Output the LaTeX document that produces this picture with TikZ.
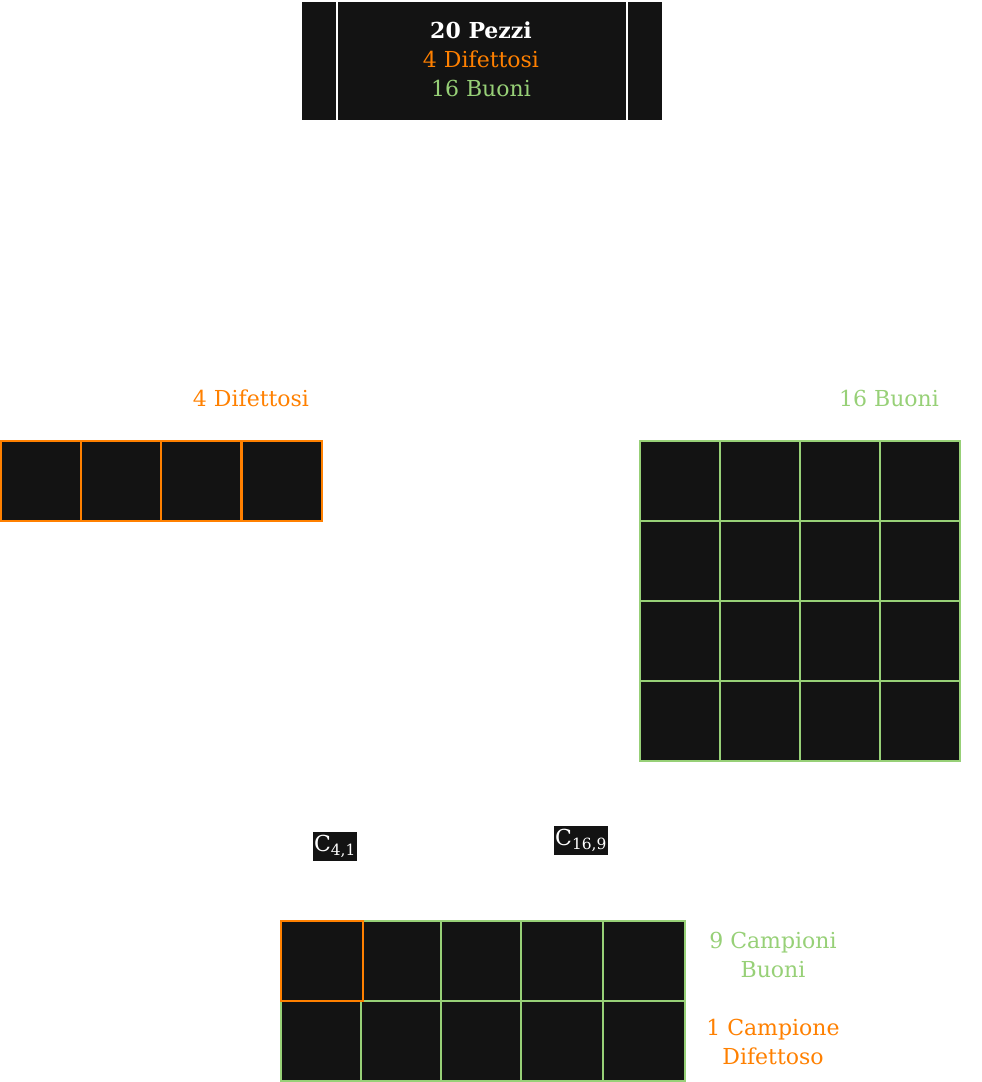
\documentclass[tikz,border=0pt]{standalone}
\usepackage{fontspec}
\setmainfont{DejaVu Serif}
\definecolor{dk}{HTML}{131313}
\definecolor{org}{HTML}{FF8000}
\definecolor{grn}{HTML}{97D077}
\begin{document}
\begin{tikzpicture}[x=1pt,y=-1pt,
  every node/.style={font=\fontsize{22}{29}\selectfont},
  cellbox/.style={rectangle,fill=dk,line width=2.4pt,inner sep=0pt,minimum width=#1,minimum height=80pt},
  cellbox/.default=80pt,
  orgcell/.style={cellbox=#1,draw=org},
  orgcell/.default=80pt,
  grncell/.style={cellbox=#1,draw=grn},
  grncell/.default=80pt,
  lbl/.style={align=center,inner sep=0pt},
  sublbl/.style={fill=dk,text=white,inner sep=1pt,minimum height=29pt,font=\fontsize{22}{26}\selectfont}]
\useasboundingbox (0,0) rectangle (982,1082);
% top box
\node[rectangle,fill=dk,minimum width=360pt,minimum height=118pt,inner sep=0pt] (top) at (482,61) {};
\draw[white,line width=2pt] ([xshift=35pt]top.north west) -- ([xshift=35pt]top.south west);
\draw[white,line width=2pt] ([xshift=-35pt]top.north east) -- ([xshift=-35pt]top.south east);
\node[lbl,text=white] (t1) at (481,30) {\textbf{20 Pezzi}};
\node[lbl,text=org] (t2) at (481,59) {4 Difettosi};
\node[lbl,text=grn] (t3) at (481,88) {16 Buoni};
% left defects
\node[lbl,text=org] (ldef) at (251,398) {4 Difettosi};
\foreach \i/\x in {1/41,2/121,3/201,4/282}
  \node[orgcell] (d\i) at (\x,481) {};
% right good
\node[lbl,text=grn] (lgood) at (889,398) {16 Buoni};
\foreach \r/\y in {1/481,2/561,3/641,4/721}
  \foreach \c/\x in {1/680,2/760,3/840,4/920}
    \node[grncell] (g\r\c) at (\x,\y) {};
% combination labels
\node[sublbl] (c41) at (335,846.5) {C\textsubscript{4,1}};
\node[sublbl] (c169) at (581,840.5) {C\textsubscript{16,9}};
% bottom sample grid
\foreach \i/\x/\w in {2/402/78pt,3/481/80pt,4/562/82pt,5/644/82pt}
  \node[grncell=\w] (s1\i) at (\x,961) {};
\foreach \i/\x/\w in {1/321/80pt,2/401/80pt,3/481/80pt,4/562/82pt,5/644/82pt}
  \node[grncell=\w] (s2\i) at (\x,1041) {};
\node[orgcell=82pt] (s11) at (322,961) {};
\node[lbl,text=grn] (lgs) at (773,955) {9 Campioni\\Buoni};
\node[lbl,text=org] (lds) at (773,1042) {1 Campione\\Difettoso};
\end{tikzpicture}
\end{document}
